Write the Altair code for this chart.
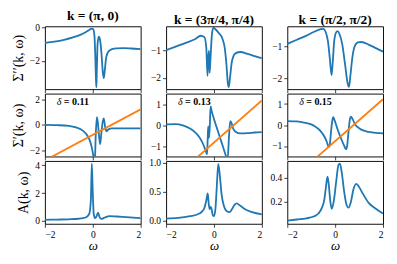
import altair as alt
import pandas as pd

# ---------------- data ----------------
col_titles = ["k = (π, 0)", "k = (3π/4, π/4)", "k = (π/2, π/2)"]
row_titles = ["Σ′′(k, ω)", "Σ′(k, ω)", "A(k, ω)"]
deltas = ["0.11", "0.13", "0.15"]

# Row 1: Sigma''
s2_c1_w = [-2.0, -1.6, -1.2, -0.8, -0.5, -0.3, -0.15, -0.05, 0.02, 0.07, 0.10, 0.13, 0.15, 0.17, 0.20,
           0.25, 0.30, 0.36, 0.42, 0.46, 0.50, 0.56, 0.65, 0.8, 1.0, 1.3, 1.6, 2.0]
s2_c1_v = [-0.92, -0.85, -0.74, -0.58, -0.42, -0.28, -0.14, -0.06, -0.1, -0.5, -1.5, -3.0, -3.6, -2.5, -1.0,
           -0.55, -0.7, -1.5, -2.7, -3.05, -2.6, -1.8, -1.45, -1.3, -1.25, -1.24, -1.26, -1.3]

s2_c2_w = [-2.0, -1.6, -1.2, -0.8, -0.55, -0.4, -0.32, -0.27, -0.24, -0.21, -0.18, -0.14, -0.08, -0.02,
           0.05, 0.2, 0.35, 0.45, 0.52, 0.58, 0.62, 0.67, 0.75, 0.9, 1.1, 1.4, 1.7, 2.0]
s2_c2_v = [-0.98, -0.85, -0.72, -0.58, -0.45, -0.5, -0.9, -1.93, -1.3, -1.0, -1.82, -1.2, -0.35, -0.15,
           -0.2, -0.35, -0.55, -0.9, -1.5, -2.2, -2.35, -2.0, -1.4, -1.1, -1.05, -1.12, -1.2, -1.28]

s2_c3_w = [-2.0, -1.6, -1.2, -0.9, -0.6, -0.5, -0.4, -0.3, -0.22, -0.15, -0.1, -0.04, 0.04, 0.1, 0.18,
           0.3, 0.42, 0.52, 0.58, 0.64, 0.72, 0.82, 0.95, 1.1, 1.4, 1.7, 2.0]
s2_c3_v = [-0.93, -0.8, -0.67, -0.56, -0.47, -0.46, -0.55, -0.85, -1.4, -1.9, -1.5, -0.85, -0.57, -0.53, -0.62,
           -0.95, -1.6, -2.15, -2.27, -1.9, -1.35, -1.0, -0.88, -0.87, -0.95, -1.06, -1.17]

# Row 2: Sigma'
s1_c1_w = [-2.0, -1.5, -1.0, -0.7, -0.5, -0.3, -0.15, -0.05, 0.03, 0.08, 0.12, 0.17, 0.21, 0.27, 0.31,
           0.36, 0.42, 0.46, 0.52, 0.58, 0.65, 0.8, 1.2, 1.6, 2.0]
s1_c1_v = [0.0, -0.02, -0.08, -0.2, -0.35, -0.65, -1.1, -1.7, -2.5, -3.2, -1.0, 0.6, 0.2, -1.0, -1.5,
           -0.6, 0.3, 0.5, -0.2, -0.5, -0.35, -0.28, -0.27, -0.27, -0.27]

s1_c2_w = [-2.0, -1.6, -1.3, -1.0, -0.8, -0.6, -0.45, -0.35, -0.29, -0.26, -0.24, -0.21, -0.18, -0.14,
           -0.1, 0.0, 0.1, 0.2, 0.3, 0.4, 0.5, 0.57, 0.63, 0.68, 0.72, 0.8, 0.9, 1.1, 1.4, 1.7, 2.0]
s1_c2_v = [0.05, 0.06, 0.0, -0.15, -0.32, -0.58, -0.9, -1.2, -1.38, -0.6, -0.05, -0.6, -0.2, 0.9,
           0.7, 0.3, -0.05, -0.4, -0.75, -1.1, -1.45, -1.6, -0.5, 0.2, 0.15, -0.15, -0.3, -0.38, -0.37, -0.34, -0.32]

s1_c3_w = [-2.0, -1.6, -1.3, -1.0, -0.8, -0.6, -0.45, -0.35, -0.27, -0.22, -0.17, -0.12, -0.08, -0.03,
           0.1, 0.25, 0.38, 0.45, 0.5, 0.56, 0.62, 0.66, 0.72, 0.85, 1.0, 1.2, 1.4, 1.7, 2.0]
s1_c3_v = [0.19, 0.17, 0.12, 0.03, -0.1, -0.3, -0.55, -0.8, -1.05, -0.9, -0.3, 0.2, 0.37, 0.25,
           -0.2, -0.65, -1.0, -1.15, -1.0, -0.3, 0.3, 0.4, 0.3, 0.0, -0.15, -0.27, -0.33, -0.38, -0.4]

# orange straight lines (omega - mu) in row 2
lin_w = [-2.0, 2.0]
lin_c1_v = [-2.78, 1.22]
lin_c2_v = [-2.82, 1.18]
lin_c3_v = [-2.77, 1.23]

# Row 3: spectral function A
a_c1_w = [-2.0, -1.5, -1.0, -0.6, -0.3, -0.15, -0.08, -0.04, 0.0, 0.04, 0.1, 0.16, 0.22, 0.28, 0.36,
          0.5, 0.7, 1.0, 1.4, 2.0]
a_c1_v = [0.08, 0.10, 0.12, 0.16, 0.25, 0.5, 1.5, 4.1, 2.0, 0.5, 0.2, 0.35, 0.6, 0.3, 0.15,
          0.25, 0.35, 0.32, 0.27, 0.2]

a_c2_w = [-2.0, -1.5, -1.0, -0.7, -0.5, -0.4, -0.32, -0.26, -0.22, -0.18, -0.14, -0.11, -0.05, 0.0,
          0.06, 0.12, 0.18, 0.24, 0.32, 0.42, 0.55, 0.65, 0.75, 0.85, 0.95, 1.1, 1.3, 1.6, 2.0]
a_c2_v = [0.04, 0.05, 0.08, 0.11, 0.16, 0.22, 0.35, 0.47, 0.3, 0.2, 0.24, 0.22, 0.1, 0.08,
          0.2, 0.6, 0.98, 0.8, 0.45, 0.25, 0.16, 0.15, 0.2, 0.27, 0.3, 0.26, 0.2, 0.15, 0.11]

a_c3_w = [-2.0, -1.6, -1.2, -0.9, -0.7, -0.55, -0.45, -0.38, -0.32, -0.27, -0.2, -0.14, -0.06, 0.05,
          0.14, 0.2, 0.28, 0.38, 0.48, 0.56, 0.66, 0.76, 0.88, 0.98, 1.15, 1.4, 1.7, 2.0]
a_c3_v = [0.04, 0.05, 0.06, 0.075, 0.1, 0.15, 0.22, 0.33, 0.41, 0.35, 0.2, 0.14, 0.2, 0.38,
          0.51, 0.52, 0.44, 0.28, 0.17, 0.15, 0.2, 0.3, 0.35, 0.33, 0.27, 0.19, 0.14, 0.1]

x_ticks = [-2, 0, 2]
y_domains = [
    [[-3.71, 0.08], [-2.42, -0.10], [-2.34, -0.38]],
    [[-2.47, 2.45], [-1.48, 1.51], [-1.5, 1.5]],
    [[-0.2, 4.3], [-0.05, 1.03], [0.014, 0.543]],
]
y_ticks = [
    [[0, -2], [-1, -2], [-1, -2]],
    [[-2, 0, 2], [-1, 0, 1], [-1, 0, 1]],
    [[0, 2, 4], [0.0, 0.5, 1.0], [0.2, 0.4]],
]
y_formats = [["d", "d", "d"], ["d", "d", "d"], ["d", ".1f", ".1f"]]

curves = [
    [(s2_c1_w, s2_c1_v), (s2_c2_w, s2_c2_v), (s2_c3_w, s2_c3_v)],
    [(s1_c1_w, s1_c1_v), (s1_c2_w, s1_c2_v), (s1_c3_w, s1_c3_v)],
    [(a_c1_w, a_c1_v), (a_c2_w, a_c2_v), (a_c3_w, a_c3_v)],
]
lines = [lin_c1_v, lin_c2_v, lin_c3_v]

BLUE = "#1f77b4"
ORANGE = "#ff7f0e"
SERIF = "Liberation Serif"
W = 96
H = 63


def panel(r, c):
    xs, ys = curves[r][c]
    df = pd.DataFrame({"w": xs, "v": ys})
    xaxis = alt.Axis(values=x_ticks, labels=(r == 2), title=("ω" if r == 2 else None),
                     titleFontStyle="italic", titleFontWeight="normal", titleFontSize=13,
                     titleFont=SERIF, titlePadding=1)
    yaxis = alt.Axis(values=y_ticks[r][c], format=y_formats[r][c],
                     title=(row_titles[r] if c == 0 else None),
                     titleFont=SERIF, titleFontSize=14, titleFontWeight="normal", titlePadding=4)
    xenc = alt.X("w:Q", scale=alt.Scale(domain=[-2, 2], nice=False, zero=False), axis=xaxis)
    yenc = alt.Y("v:Q", scale=alt.Scale(domain=y_domains[r][c], nice=False, zero=False), axis=yaxis)
    layers = [alt.Chart(df).mark_line(color=BLUE, strokeWidth=1.8, clip=True,
                                      interpolate="monotone").encode(x=xenc, y=yenc)]
    if r == 1:
        ldf = pd.DataFrame({"w": lin_w, "v": lines[c]})
        layers.append(alt.Chart(ldf).mark_line(color=ORANGE, strokeWidth=1.8, clip=True)
                      .encode(x=xenc, y=yenc))
        tdf = pd.DataFrame({"a": ["δ"], "b": ["= " + deltas[c]]})
        layers.append(alt.Chart(tdf).mark_text(font=SERIF, fontSize=10, fontStyle="italic",
                                               align="left", baseline="middle", color="black")
                      .encode(x=alt.value(12), y=alt.value(8), text="a:N"))
        layers.append(alt.Chart(tdf).mark_text(font=SERIF, fontSize=10, fontWeight="bold",
                                               align="left", baseline="middle", color="black")
                      .encode(x=alt.value(19), y=alt.value(8), text="b:N"))
    ch = alt.layer(*layers).properties(width=W, height=H)
    if r == 0:
        ch = ch.properties(title=alt.Title(col_titles[c], font=SERIF, fontSize=13.5,
                                           fontWeight="bold", offset=0, color="black"))
    return ch


panels = [panel(r, c) for r in range(3) for c in range(3)]

chart = alt.concat(*panels, columns=3, spacing={"row": 4.5, "column": 25.5}, bounds="flush").properties(
    padding={"left": 2, "top": 0, "right": 5, "bottom": 5}
).configure_view(
    stroke="#111", strokeWidth=1
).configure_axis(
    grid=False, domain=False, tickColor="#111", tickSize=3.5, tickWidth=0.8,
    labelFont=SERIF, labelFontSize=9.5, labelColor="black", labelPadding=2,
    titleColor="black"
)

chart.save("out.html", embed_options={"renderer": "svg", "actions": False})
